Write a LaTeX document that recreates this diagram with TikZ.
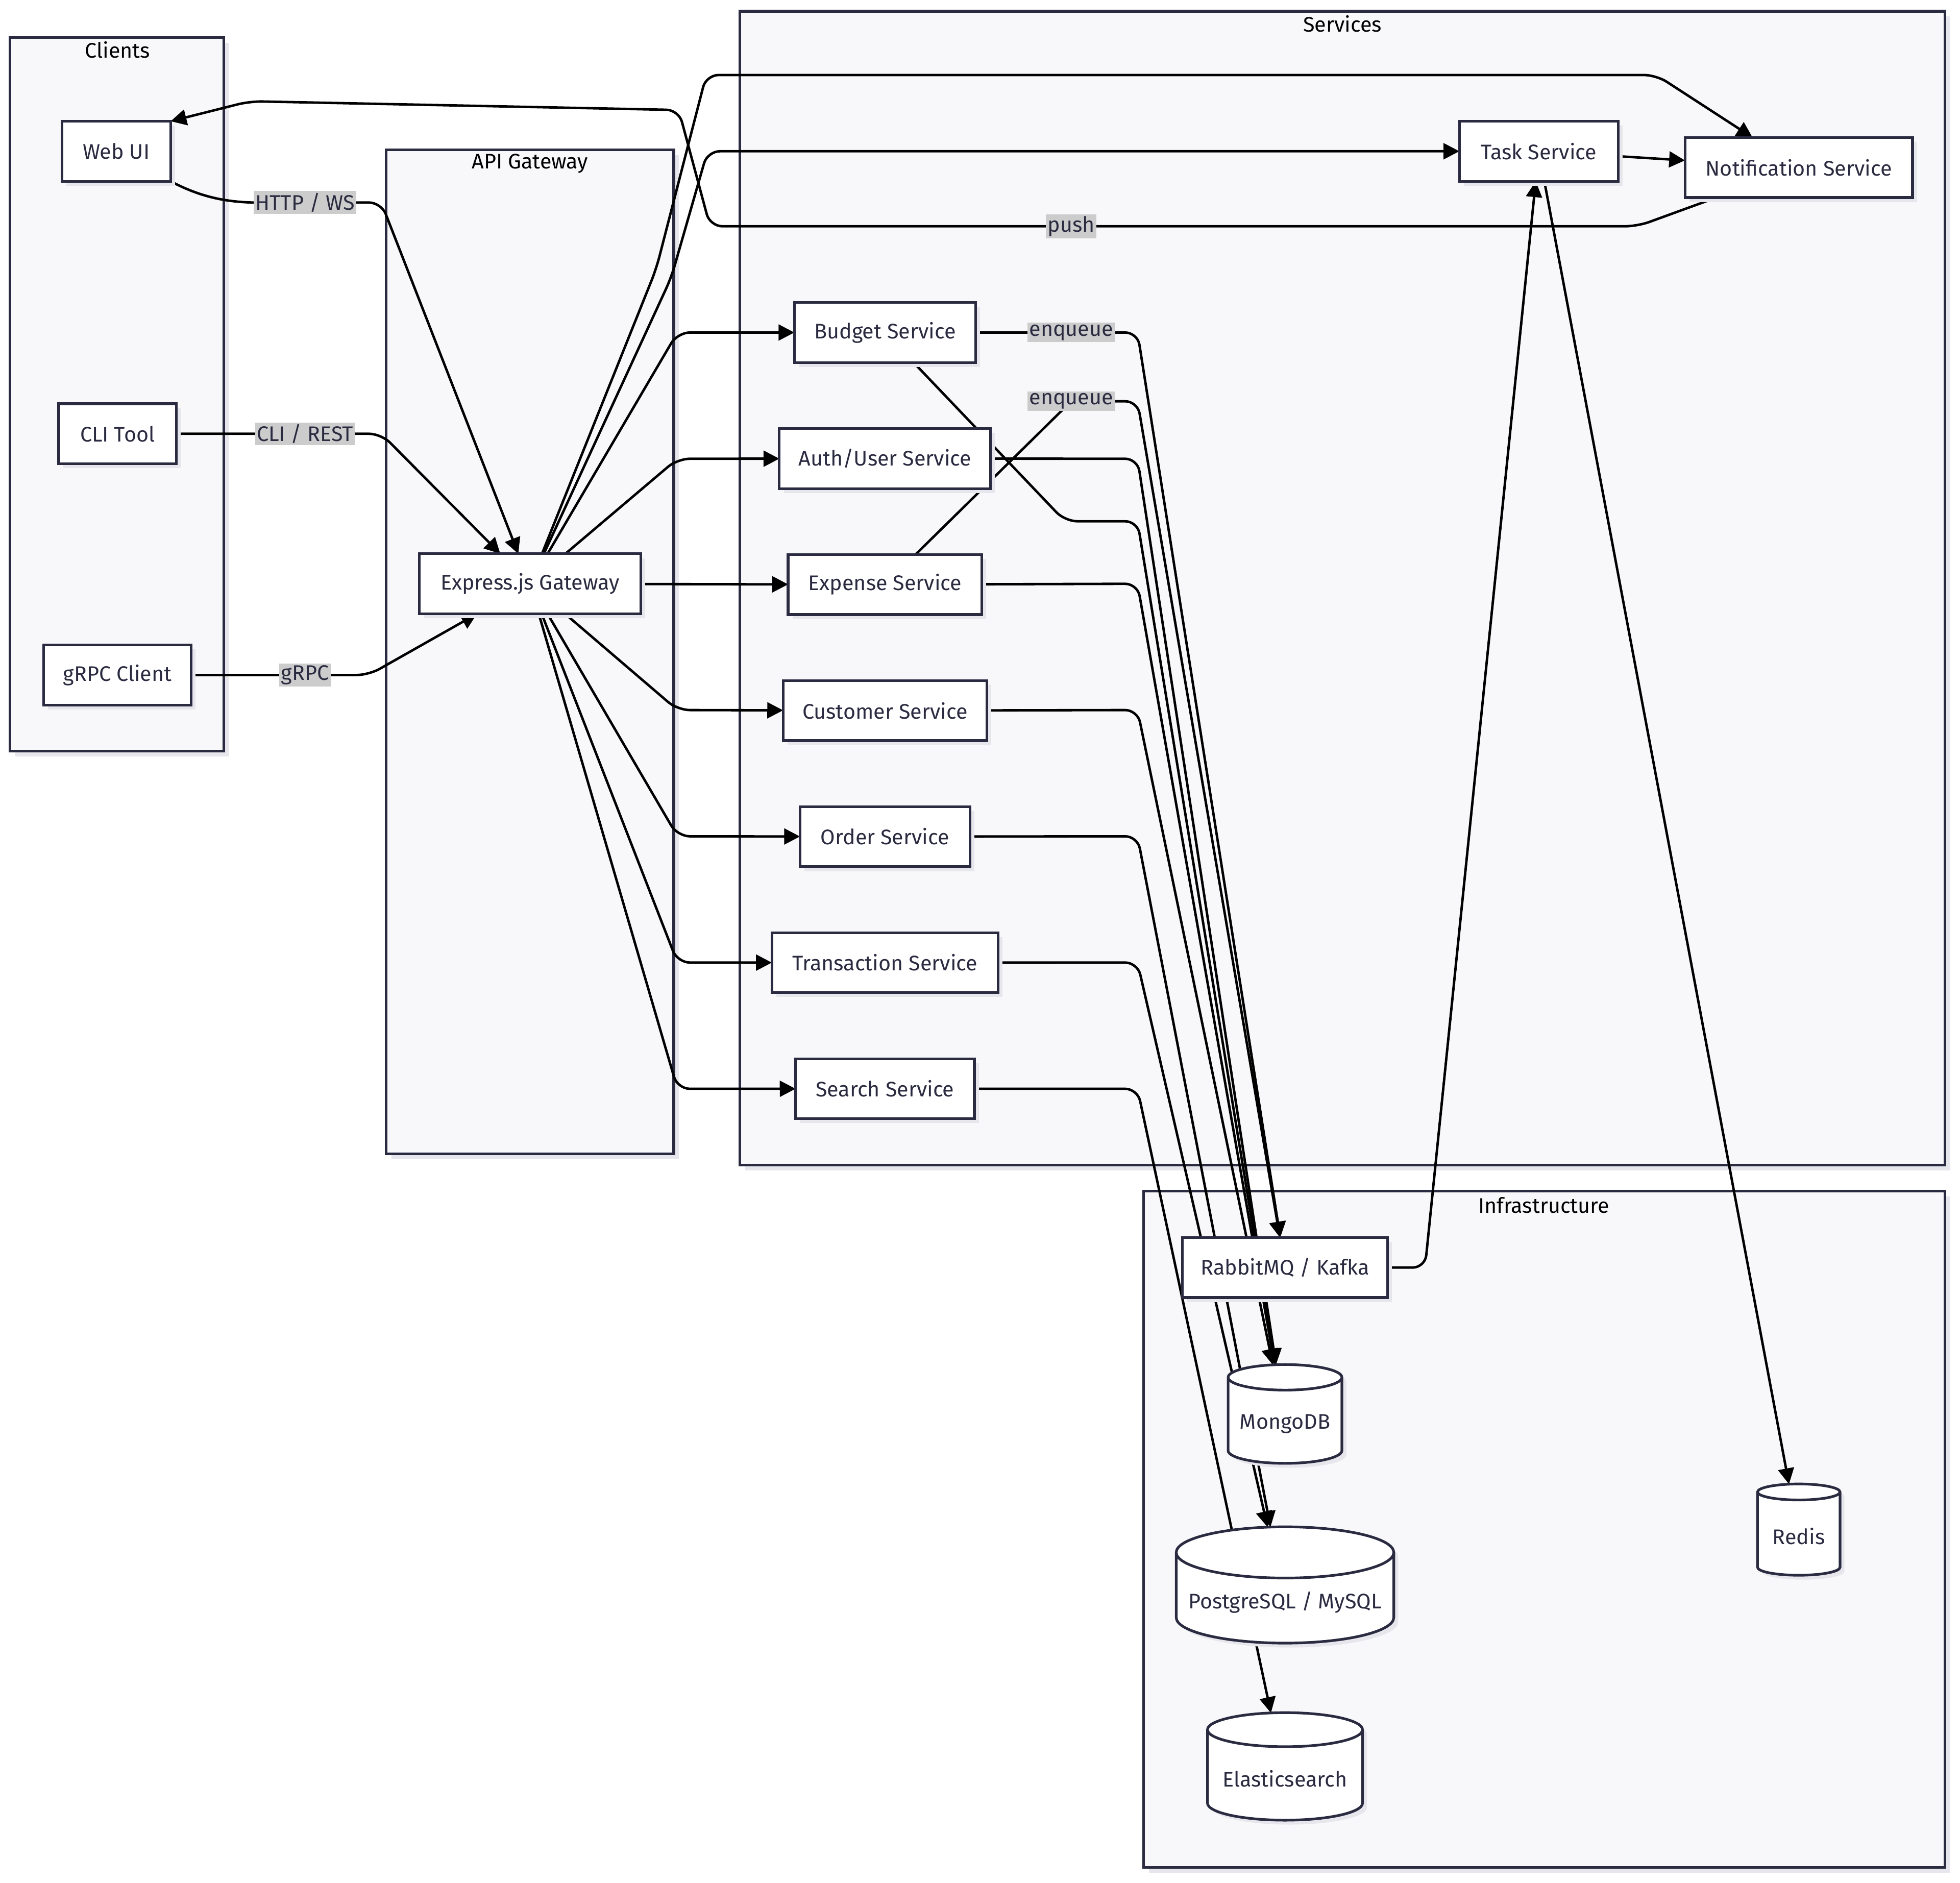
\documentclass[tikz,border=0pt]{standalone}
\usepackage{fontspec}
\setmainfont{Fira Sans}
\usepackage{tikz}
\usetikzlibrary{shapes.geometric, arrows.meta, positioning, shadows}
\definecolor{ink}{HTML}{2A2A40}
\definecolor{clusterfill}{HTML}{F8F8FA}
\definecolor{shade}{HTML}{E6E6EC}
\definecolor{lblfill}{HTML}{CCCCCC}
\pgfdeclarelayer{bg}
\pgfdeclarelayer{edges}
\pgfsetlayers{bg,edges,main}
\tikzstyle{svc} = [rectangle, minimum height=1.2cm, outer sep=0pt, text centered, draw=ink, line width=1.5pt, fill=white, text=ink, font=\fontsize{12}{14}\selectfont, general shadow={fill=shade, shadow xshift=2.5pt, shadow yshift=-2.5pt}]
\tikzstyle{db} = [cylinder, shape border rotate=90, aspect=0.25, outer sep=0pt, draw=ink, line width=1.5pt, fill=white, text=ink, font=\fontsize{12}{14}\selectfont, general shadow={fill=shade, shadow xshift=2.5pt, shadow yshift=-2.5pt}]
\tikzstyle{cluster} = [draw=ink, line width=1.5pt, fill=clusterfill, general shadow={fill=shade, shadow xshift=3pt, shadow yshift=-3pt}]
\tikzstyle{ctitle} = [text=black, font=\fontsize{12}{14}\selectfont]
\tikzstyle{lbl} = [sharp corners, fill=lblfill, text=ink, inner sep=1pt, font=\fontsize{12}{14}\selectfont]
\tikzstyle{arrow} = [line width=1.4pt, ->, >={Triangle[length=9pt,width=9pt]}, rounded corners=7pt]

\begin{document}
\begin{tikzpicture}[x=0.025cm, y=-0.025cm, node distance=2.52cm]
	\useasboundingbox (0,0) rectangle (1568,1506);
	% clients
	\node (webui) [svc, minimum width=2.175cm] at (93,121) {Web UI};
	\node (cli) [svc, minimum width=2.35cm] at (94,347) {CLI Tool};
	\node (grpc) [svc, minimum width=2.95cm] at (94,540) {gRPC Client};
	% gateway
	\node (gw) [svc, minimum width=4.425cm] at (424,467) {Express.js Gateway};
	% services
	\node (task) [svc, minimum width=3.175cm] at (1231,121) {Task Service};
	\node (notif) [svc, minimum width=4.55cm] at (1439,134) {Notification Service};
	\node (budget) [svc, minimum width=3.625cm] at (708,266) {Budget Service};
	\node (auth) [svc, minimum width=4.225cm, below of=budget] {Auth/User Service};
	\node (expense) [svc, minimum width=3.875cm, below of=auth] {Expense Service};
	\node (customer) [svc, minimum width=4.075cm, below of=expense] {Customer Service};
	\node (order) [svc, minimum width=3.4cm, below of=customer] {Order Service};
	\node (trans) [svc, minimum width=4.525cm, below of=order] {Transaction Service};
	\node (search) [svc, minimum width=3.575cm, below of=trans] {Search Service};
	% infrastructure
	\node (rabbit) [svc, minimum width=4.1cm] at (1028,1014) {RabbitMQ / Kafka};
	\node (mongo) [db, minimum width=2.275cm, minimum height=1.975cm] at (1028,1139) {MongoDB};
	\node (pg) [db, minimum width=4.35cm, minimum height=2.325cm] at (1028,1282) {PostgreSQL / MySQL};
	\node (elastic) [db, minimum width=3.1cm, minimum height=2.15cm] at (1028,1423) {Elasticsearch};
	\node (redis) [db, minimum width=1.65cm, minimum height=1.825cm] at (1439,1229) {Redis};

	\begin{pgfonlayer}{edges}
	\draw [arrow] (webui.south east) to[out=-28,in=180] (244,162) node[lbl] {HTTP / WS} -- (305,162) -- (gw);
	\draw [arrow] (cli) -- (244,347) node[lbl] {CLI / REST} -- (305,347) -- (gw);
	\draw [arrow] (grpc) -- (244,540) node[lbl] {gRPC} -- (295,540) -- (gw);
	\draw [arrow] (gw) -- (525,215) -- (565,60) -- (1325,60) -- (notif);
	\draw [arrow] (gw) -- (537,222) -- (566,121) -- (task);
	\draw [arrow] (gw) -- (542,266) -- (budget);
	\draw [arrow] (gw) -- (542,367) -- (auth);
	\draw [arrow] (gw) -- (expense);
	\draw [arrow] (gw) -- (542,568) -- (customer);
	\draw [arrow] (gw) -- (542,669) -- (order);
	\draw [arrow] (gw) -- (542,770) -- (trans);
	\draw [arrow] (gw) -- (542,871) -- (search);
	\draw [arrow] (notif) -- (1310,181) -- (857,181) node[lbl] {push} -- (568,181) -- (543,88) -- (200,81) -- (webui.north east);
	\draw [arrow] (task) -- (notif);
	\draw [arrow] (budget) -- (857,266) node[lbl] {enqueue} -- (910,266) -- (rabbit);
	\draw [arrow] (expense) -- (857,321) node[lbl] {enqueue} -- (910,321) -- (rabbit);
	\draw [arrow] (budget) -- (852,417) -- (910,417) -- (mongo);
	\draw [arrow] (auth) -- (910,367) -- (mongo);
	\draw [arrow] (expense) -- (910,467) -- (mongo);
	\draw [arrow] (customer) -- (910,568) -- (mongo);
	\draw [arrow] (order) -- (910,669) -- (pg);
	\draw [arrow] (trans) -- (910,770) -- (pg);
	\draw [arrow] (search) -- (910,871) -- (elastic);
	\draw [arrow] (rabbit) -- (1140,1014) -- (task);
	\draw [arrow] (task) -- (redis);
	\end{pgfonlayer}

	\begin{pgfonlayer}{bg}
	\draw [cluster] (8,30) rectangle (179,601);
	\node (clientsT) [ctitle] at (94,40) {Clients};
	\draw [cluster] (309,120) rectangle (539,923);
	\node (gwT) [ctitle] at (424,131) {API Gateway};
	\draw [cluster] (592,9) rectangle (1556,932);
	\node (servicesT) [ctitle] at (1074,19) {Services};
	\draw [cluster] (915,953) rectangle (1556,1494);
	\node (infraT) [ctitle] at (1235,964) {Infrastructure};
	\end{pgfonlayer}
\end{tikzpicture}
\end{document}
